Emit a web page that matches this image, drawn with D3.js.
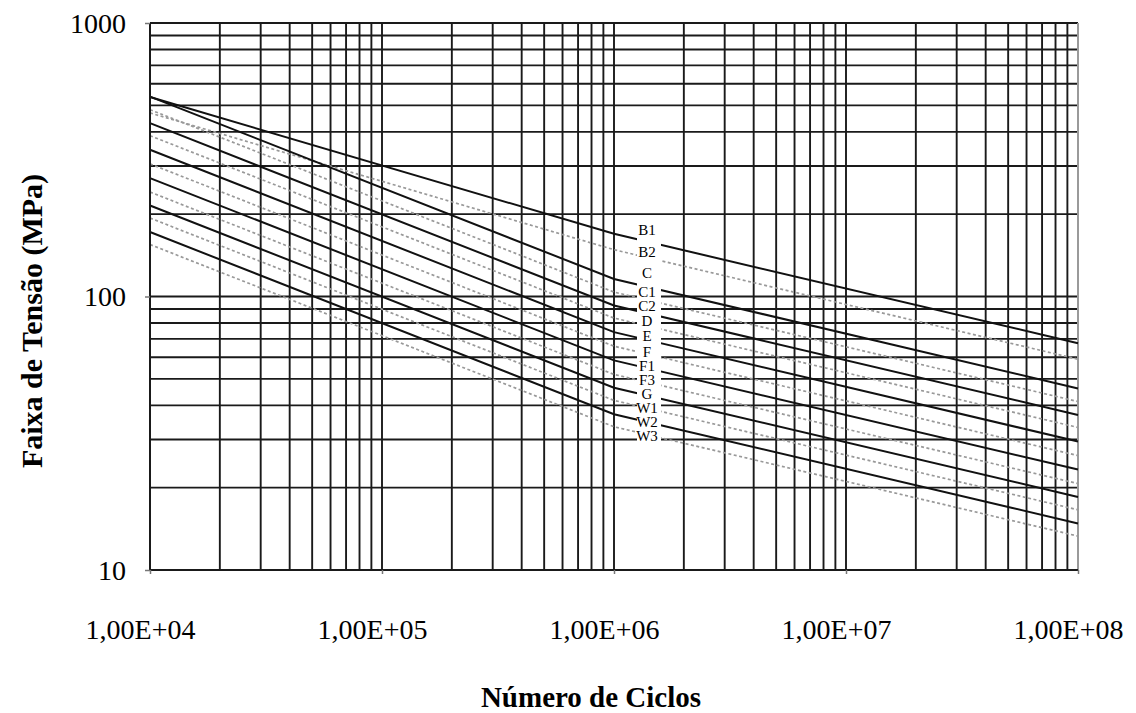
<!DOCTYPE html>
<html>
<head>
<meta charset="utf-8">
<script src="https://cdn.jsdelivr.net/npm/d3@7/dist/d3.min.js"></script>
<style>
  html, body { margin: 0; padding: 0; background: #fff; }
  svg { display: block; }
  text { font-family: "Liberation Serif", "Times New Roman", serif; fill: #000; }
</style>
</head>
<body>
<svg id="chart" width="1136" height="713"></svg>
<script>
// S-N curve classes (DNV-RP-C203, seawater with cathodic protection)
const curveNames = ["B1", "B2", "C", "C1", "C2", "D", "E", "F", "F1", "F3", "G", "W1", "W2", "W3"];
// Stress range (MPa) at 1E4, at the knee (1E6) and at 1E8 cycles
const stressAt1e4 = [536.0, 469.1, 538.0, 482.0, 430.2, 387.3, 344.1, 305.5, 271.0, 241.0, 215.1, 193.6, 172.1, 154.9];
const stressAtKnee = [169.5, 148.3, 115.9, 103.8, 92.7, 83.4, 74.1, 65.8, 58.4, 51.9, 46.4, 41.7, 37.1, 33.4];
const stressAt1e8 = [67.5, 59.0, 46.1, 41.3, 36.9, 33.2, 29.5, 26.2, 23.3, 20.7, 18.5, 16.6, 14.8, 13.3];
const cyclePoints = [1e4, 1e6, 1e8];
// Solid for the first class of each pair, dotted grey for the second
const lineStyle = ["solid", "dotted", "solid", "dotted", "solid", "dotted", "solid", "dotted", "solid", "dotted", "solid", "dotted", "solid", "dotted"];
const labelY = [230, 252, 273, 292, 306, 321, 336, 352, 366, 380, 394, 408, 422, 436];

const xTicks = [1e4, 1e5, 1e6, 1e7, 1e8];
const xTickLabels = ["1,00E+04", "1,00E+05", "1,00E+06", "1,00E+07", "1,00E+08"];
const yTicks = [10, 100, 1000];
const yTickLabels = ["10", "100", "1000"];

const svg = d3.select("#chart");
const plotLeft = 150, plotRight = 1078, plotTop = 23, plotBottom = 570;

const x = d3.scaleLog().domain([1e4, 1e8]).range([plotLeft, plotRight]);
const y = d3.scaleLog().domain([10, 1000]).range([plotBottom, plotTop]);

// Minor/major grid values for each decade
const xGrid = [];
for (let e = 4; e < 8; e++) for (let k = 1; k <= 9; k++) xGrid.push(k * Math.pow(10, e));
const yGrid = [];
for (let e = 1; e < 3; e++) for (let k = 1; k <= 9; k++) yGrid.push(k * Math.pow(10, e));

const grid = svg.append("g").attr("class", "grid");
grid.selectAll("line.v").data(xGrid.slice(1)).join("line")
  .attr("class", "v")
  .attr("x1", d => x(d)).attr("x2", d => x(d))
  .attr("y1", plotTop).attr("y2", plotBottom)
  .attr("stroke", "#1a1a1a").attr("stroke-width", 1.9);
grid.selectAll("line.h").data(yGrid.slice(1).concat([1000])).join("line")
  .attr("class", "h")
  .attr("x1", plotLeft).attr("x2", plotRight)
  .attr("y1", d => y(d)).attr("y2", d => y(d))
  .attr("stroke", "#1a1a1a").attr("stroke-width", 1.9);

// Right border of the plot area
svg.append("line")
  .attr("x1", plotRight).attr("x2", plotRight).attr("y1", plotTop).attr("y2", plotBottom)
  .attr("stroke", "#9a9a9a").attr("stroke-width", 2);

// Curves
const line = d3.line().x(d => x(d[0])).y(d => y(d[1]));
const curves = svg.append("g").attr("class", "curves");
curveNames.forEach((name, i) => {
  const stresses = [stressAt1e4[i], stressAtKnee[i], stressAt1e8[i]];
  const pts = cyclePoints.map((n, j) => [n, stresses[j]]);
  const p = curves.append("path")
    .attr("d", line(pts))
    .attr("fill", "none");
  if (lineStyle[i] === "solid") {
    p.attr("stroke", "#111").attr("stroke-width", 2);
  } else {
    p.attr("stroke", "#999").attr("stroke-width", 1.7).attr("stroke-dasharray", "3,2.5");
  }
});

// Label column with white background
const labelBox = svg.append("g").attr("class", "labels");
labelBox.append("rect")
  .attr("x", 637).attr("y", 219).attr("width", 24).attr("height", 228)
  .attr("fill", "#fff");
labelBox.selectAll("text").data(curveNames).join("text")
  .attr("x", 647).attr("y", (d, i) => labelY[i])
  .attr("dy", "0.35em")
  .attr("text-anchor", "middle")
  .style("font-size", "15px")
  .text(d => d);

// Axes: left and bottom lines with outward ticks
svg.append("line")
  .attr("x1", plotLeft).attr("x2", plotLeft).attr("y1", plotTop).attr("y2", plotBottom)
  .attr("stroke", "#1a1a1a").attr("stroke-width", 2);
svg.append("line")
  .attr("x1", plotLeft).attr("x2", plotRight).attr("y1", plotBottom).attr("y2", plotBottom)
  .attr("stroke", "#1a1a1a").attr("stroke-width", 2);

const yAxis = svg.append("g")
  .attr("transform", `translate(${plotLeft},0)`)
  .call(d3.axisLeft(y).tickValues(yTicks).tickSize(5).tickPadding(19)
    .tickFormat((d, i) => yTickLabels[i]));
yAxis.select(".domain").remove();
yAxis.selectAll(".tick line").attr("stroke", "#777").attr("stroke-width", 1.5);
yAxis.selectAll(".tick text")
  .attr("fill", "#000")
  .style("font-family", "'Liberation Serif', 'Times New Roman', serif")
  .style("font-size", "28px")
  .attr("dy", "0.33em");

const xAxis = svg.append("g")
  .attr("transform", `translate(0,${plotBottom})`)
  .call(d3.axisBottom(x).tickValues(xTicks).tickSize(4).tickPadding(45)
    .tickFormat((d, i) => xTickLabels[i]));
xAxis.select(".domain").remove();
xAxis.selectAll(".tick line").attr("stroke", "#777").attr("stroke-width", 1.5);
xAxis.selectAll(".tick text")
  .attr("fill", "#000")
  .attr("dx", -10)
  .style("font-family", "'Liberation Serif', 'Times New Roman', serif")
  .style("font-size", "28px");

// Axis titles
svg.append("text")
  .attr("x", 591).attr("y", 707)
  .attr("text-anchor", "middle")
  .style("font-size", "29px").style("font-weight", "bold")
  .text("Número de Ciclos");
svg.append("text")
  .attr("transform", "translate(42,321) rotate(-90)")
  .attr("text-anchor", "middle")
  .style("font-size", "30px").style("font-weight", "bold")
  .text("Faixa de Tensão (MPa)");
</script>
</body>
</html>
